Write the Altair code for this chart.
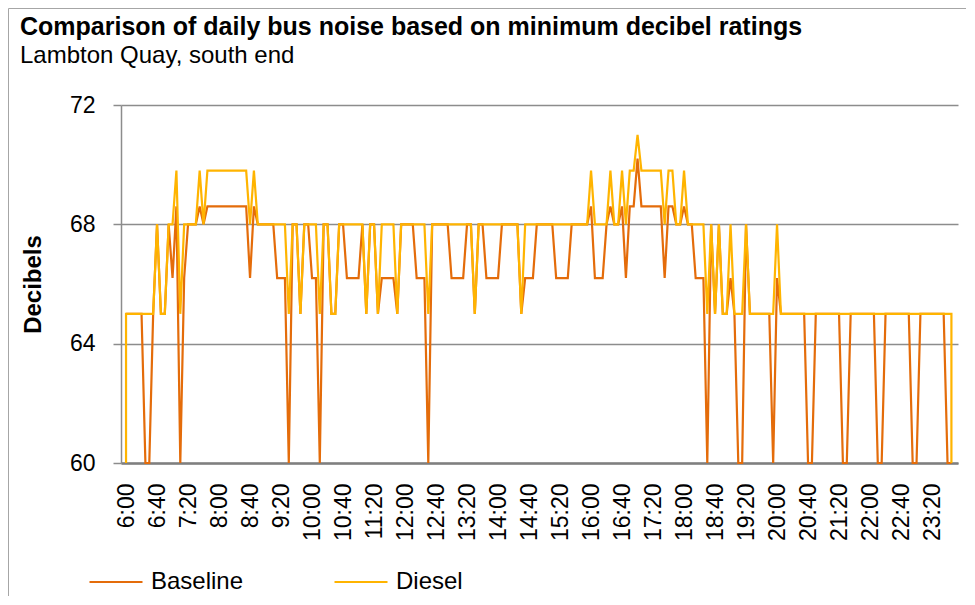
import altair as alt
import pandas as pd

# ---- data ----
start_minute = 360          # 6:00
step_minutes = 5            # readings every 5 minutes

baseline = [
    65, 65, 65, 65, 65, 60, 60, 65, 68, 65,
    65, 68, 66.2, 68.6, 60, 66.2, 68, 68, 68, 68.6,
    68, 68.6, 68.6, 68.6, 68.6, 68.6, 68.6, 68.6, 68.6, 68.6,
    68.6, 68.6, 66.2, 68.6, 68, 68, 68, 68, 68, 66.2,
    66.2, 66.2, 60, 68, 68, 65, 68, 68, 66.2, 66.2,
    60, 68, 68, 65, 65, 68, 68, 66.2, 66.2, 66.2,
    66.2, 68, 65, 68, 68, 65, 66.2, 66.2, 66.2, 66.2,
    65, 68, 68, 68, 68, 66.2, 66.2, 66.2, 60, 68,
    68, 68, 68, 68, 66.2, 66.2, 66.2, 66.2, 68, 68,
    65, 68, 68, 66.2, 66.2, 66.2, 66.2, 68, 68, 68,
    68, 68, 65, 66.2, 66.2, 66.2, 68, 68, 68, 68,
    68, 66.2, 66.2, 66.2, 66.2, 68, 68, 68, 68, 68,
    68.6, 66.2, 66.2, 66.2, 68, 68.6, 68, 68, 68.6, 66.2,
    68.6, 68.6, 70.2, 68.6, 68.6, 68.6, 68.6, 68.6, 68.6, 66.2,
    68.6, 68.6, 68, 68, 68.6, 68, 68, 66.2, 66.2, 66.2,
    60, 68, 65, 68, 65, 65, 66.2, 65, 60, 60,
    68, 65, 65, 65, 65, 65, 65, 60, 66.2, 65,
    65, 65, 65, 65, 65, 65, 60, 60, 65, 65,
    65, 65, 65, 65, 65, 60, 60, 65, 65, 65,
    65, 65, 65, 65, 60, 60, 65, 65, 65, 65,
    65, 65, 65, 60, 60, 65, 65, 65, 65, 65,
    65, 65, 60, 60,
]

diesel = [
    65, 65, 65, 65, 65, 65, 65, 65, 68, 65,
    65, 68, 68, 69.8, 65, 68, 68, 68, 68, 69.8,
    68, 69.8, 69.8, 69.8, 69.8, 69.8, 69.8, 69.8, 69.8, 69.8,
    69.8, 69.8, 68, 69.8, 68, 68, 68, 68, 68, 68,
    68, 68, 65, 68, 68, 65, 68, 68, 68, 68,
    65, 68, 68, 65, 65, 68, 68, 68, 68, 68,
    68, 68, 65, 68, 68, 65, 68, 68, 68, 68,
    65, 68, 68, 68, 68, 68, 68, 68, 65, 68,
    68, 68, 68, 68, 68, 68, 68, 68, 68, 68,
    65, 68, 68, 68, 68, 68, 68, 68, 68, 68,
    68, 68, 65, 68, 68, 68, 68, 68, 68, 68,
    68, 68, 68, 68, 68, 68, 68, 68, 68, 68,
    69.8, 68, 68, 68, 68, 69.8, 68, 68, 69.8, 68,
    69.8, 69.8, 71, 69.8, 69.8, 69.8, 69.8, 69.8, 69.8, 68,
    69.8, 69.8, 68, 68, 69.8, 68, 68, 68, 68, 68,
    65, 68, 65, 68, 65, 65, 68, 65, 65, 65,
    68, 65, 65, 65, 65, 65, 65, 65, 68, 65,
    65, 65, 65, 65, 65, 65, 65, 65, 65, 65,
    65, 65, 65, 65, 65, 65, 65, 65, 65, 65,
    65, 65, 65, 65, 65, 65, 65, 65, 65, 65,
    65, 65, 65, 65, 65, 65, 65, 65, 65, 65,
    65, 65, 65, 65,
]

# the Diesel trace opens and closes with a drop to 60 at the same time stamp
diesel_open = 60
diesel_close = 60

series_names = ["Baseline", "Diesel"]
series_colors = ["#E46C0A", "#FFB400"]
y_ticks = [60, 64, 68, 72]
x_tick_minutes = [360, 400, 440, 480, 520, 560, 600, 640, 680, 720, 760, 800, 840,
                  880, 920, 960, 1000, 1040, 1080, 1120, 1160, 1200, 1240, 1280,
                  1320, 1360, 1400]

assert len(baseline) == 214 and len(diesel) == 214

rows = []
for k, v in enumerate(baseline):
    rows.append({"minute": start_minute + step_minutes * k, "db": v,
                 "series": "Baseline", "seq": k})
rows.append({"minute": start_minute, "db": diesel_open, "series": "Diesel", "seq": -1})
for k, v in enumerate(diesel):
    rows.append({"minute": start_minute + step_minutes * k, "db": v,
                 "series": "Diesel", "seq": k})
rows.append({"minute": start_minute + step_minutes * (len(diesel) - 1), "db": diesel_close,
             "series": "Diesel", "seq": len(diesel)})
df = pd.DataFrame(rows)

FONT = "Liberation Sans"
GRID = "#8c8c8c"

label_expr = ("floor(datum.value / 60) + ':' + "
              "(datum.value % 60 < 10 ? '0' : '') + (datum.value % 60)")

lines = alt.Chart(df).mark_line(strokeWidth=2.2).encode(
    x=alt.X("minute:Q",
            scale=alt.Scale(domain=[353.5, 1433.5], nice=False, zero=False),
            axis=alt.Axis(values=x_tick_minutes, labelExpr=label_expr, labelAngle=-90,
                          labelFontSize=23, labelPadding=20, labelColor="black",
                          ticks=False, grid=False, domainColor="#7f7f7f", domainWidth=2.5,
                          labelOverlap=False, labelFlush=False, labelBound=False,
                          title=None)),
    y=alt.Y("db:Q",
            scale=alt.Scale(domain=[60, 72], nice=False, zero=False),
            axis=alt.Axis(values=y_ticks, grid=True, gridColor=GRID, gridWidth=1.5,
                          tickSize=8, tickColor=GRID, tickWidth=1.5,
                          domainColor=GRID, domainWidth=1.5,
                          labelFontSize=23, labelPadding=18, labelColor="black",
                          title="Decibels", titleFontSize=24, titleFontWeight="bold",
                          titleColor="black", titleX=-88, titleY=179, titleAngle=270,
                          titleAlign="center", titleBaseline="middle")),
    color=alt.Color("series:N",
                    scale=alt.Scale(domain=series_names, range=series_colors),
                    legend=alt.Legend(orient="none", legendX=-33, legendY=449,
                                      direction="horizontal", title=None,
                                      symbolType="stroke", symbolSize=2809,
                                      symbolStrokeWidth=2.2, labelFontSize=24,
                                      labelColor="black", labelOffset=7,
                                      columnPadding=86, padding=0)),
    order=alt.Order("seq:Q"),
)

border = alt.Chart(pd.DataFrame({"a": [0]})).mark_rect(
    fillOpacity=0, stroke="#a6a6a6", strokeWidth=1
).encode(x=alt.value(-112.5), x2=alt.value(845.5), y=alt.value(-96.5), y2=alt.value(520))

chart = alt.layer(border, lines).properties(
    width=837, height=358,
    autosize=alt.AutoSizeParams(type="none"),
    padding={"left": 113, "top": 97, "right": 8, "bottom": 133},
    title=alt.TitleParams(
        text="Comparison of daily bus noise based on minimum decibel ratings",
        subtitle="Lambton Quay, south end",
        anchor="start", frame="group", dx=-101, offset=-60,
        fontSize=25, fontWeight="bold", color="black", font=FONT,
        subtitleFontSize=24, subtitleColor="black", subtitleFont=FONT,
        subtitlePadding=4),
).configure(font=FONT).configure_view(strokeWidth=0)

chart.save("out.html", embed_options={"renderer": "svg", "actions": False})
